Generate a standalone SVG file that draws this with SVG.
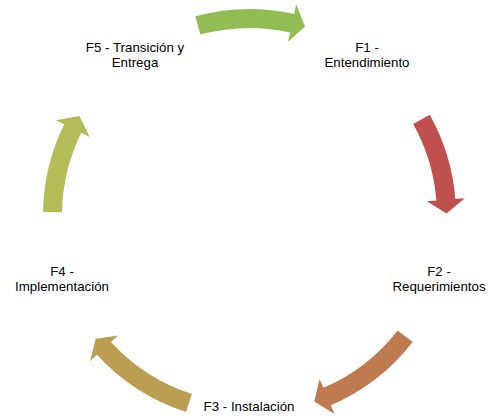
<svg xmlns="http://www.w3.org/2000/svg" width="490" height="420" viewBox="0 0 490 420">
<style>
.lbl{font-family:"Liberation Sans",Arial,sans-serif;font-size:13.3px;fill:#000;text-anchor:middle}
.arr{stroke:none}
</style>
<rect width="490" height="420" fill="#fff"/>
<g id="connectors">
<path id="arrow-f5-f1" class="arr" fill="#92BD55" d="M195.36,16.23 A206.5,206.5 0 0 1 294.19,13.89 L296.24,4.62 L305.11,26.52 L288.02,41.72 L290.08,32.44 A187.5,187.5 0 0 0 200.34,34.56 Z"/>
<path id="arrow-f1-f2" class="arr" fill="#C0504D" d="M429.75,114.75 A206.5,206.5 0 0 1 455.34,198.94 L464.80,198.18 L446.49,213.44 L426.93,201.22 L436.40,200.46 A187.5,187.5 0 0 0 413.17,124.02 Z"/>
<path id="arrow-f2-f3" class="arr" fill="#BF7A50" d="M412.68,342.06 A206.5,206.5 0 0 1 330.84,405.29 L334.58,414.03 L314.29,401.55 L319.61,379.10 L323.36,387.83 A187.5,187.5 0 0 0 397.66,330.42 Z"/>
<path id="arrow-f3-f4" class="arr" fill="#BB9E52" d="M186.02,412.01 A206.5,206.5 0 0 1 97.00,354.74 L89.98,361.15 L95.76,338.66 L118.05,335.53 L111.03,341.93 A187.5,187.5 0 0 0 191.86,393.93 Z"/>
<path id="arrow-f4-f5" class="arr" fill="#B3BC56" d="M43.03,211.90 A206.5,206.5 0 0 1 64.21,124.33 L55.68,120.14 L79.41,116.11 L89.78,136.91 L81.26,132.72 A187.5,187.5 0 0 0 62.03,212.23 Z"/>
</g>
<g id="f1"><text class="lbl" x="367" y="51.5">F1 -</text><text class="lbl" x="367" y="66.5">Entendimiento</text></g>
<g id="f2"><text class="lbl" x="439" y="275.5">F2 -</text><text class="lbl" x="439" y="290.5">Requerimientos</text></g>
<g id="f3"><text class="lbl" x="249" y="411">F3 - Instalación</text></g>
<g id="f4"><text class="lbl" x="62" y="275.5">F4 -</text><text class="lbl" x="62" y="290.5">Implementación</text></g>
<g id="f5"><text class="lbl" x="135" y="51.5">F5 - Transición y</text><text class="lbl" x="135" y="66.5">Entrega</text></g>
</svg>
